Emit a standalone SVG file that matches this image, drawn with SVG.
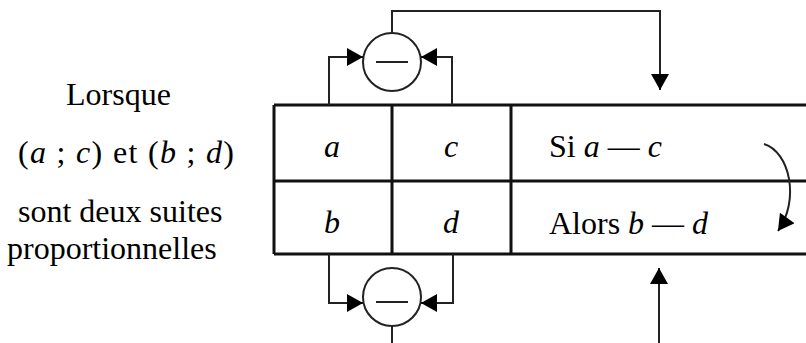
<svg xmlns="http://www.w3.org/2000/svg" width="806" height="343" viewBox="0 0 806 343">
<style>
text{font-family:'Liberation Serif','Times New Roman',serif;font-size:32px;fill:#000}
.i{font-style:italic}
.tbl{stroke:#111;stroke-width:3;fill:none}
.ln{stroke:#222;stroke-width:2;fill:none}
.op{stroke:#222;stroke-width:2;fill:#fff}
</style>
<defs>
<marker id="ah" markerUnits="userSpaceOnUse" markerWidth="18" markerHeight="18" viewBox="0 0 16 18" refX="16" refY="9" orient="auto">
<path d="M0,0 L16,9 L0,18 Z" fill="#000"/>
</marker>
</defs>
<rect width="806" height="343" fill="#fff"/>
<g id="caption" font-family="Liberation Serif">
<text x="66" y="105">Lorsque</text>
<text x="18" y="163" textLength="216" lengthAdjust="spacing">(<tspan class="i">a</tspan> ; <tspan class="i">c</tspan>) et (<tspan class="i">b</tspan> ; <tspan class="i">d</tspan>)</text>
<text x="18" y="222">sont deux suites</text>
<text x="7" y="259">proportionnelles</text>
</g>
<g id="table" font-family="Liberation Serif">
<path class="tbl" d="M274,105 H806 M274,181 H806 M274,254 H806 M274,105 V254 M392,105 V254 M511,105 V254"/>
<text class="i" x="332" y="157" text-anchor="middle">a</text>
<text class="i" x="451" y="157" text-anchor="middle">c</text>
<text class="i" x="332" y="233" text-anchor="middle">b</text>
<text class="i" x="451" y="233" text-anchor="middle">d</text>
<text x="549" y="157">Si <tspan class="i">a</tspan> — <tspan class="i">c</tspan></text>
<text x="549" y="234">Alors <tspan class="i">b</tspan> — <tspan class="i">d</tspan></text>
</g>
<g id="op-top">
<circle class="op" cx="392" cy="62" r="29"/>
<path class="ln" d="M376,62 H408"/>
</g>
<g id="op-bottom">
<circle class="op" cx="392" cy="297" r="29"/>
<path class="ln" d="M376,302 H408"/>
</g>
<g id="connectors">
<path class="ln" d="M329,105 V57 H363" marker-end="url(#ah)"/>
<path class="ln" d="M452,105 V57 H421" marker-end="url(#ah)"/>
<path class="ln" d="M392,33 V11 H660 V90" marker-end="url(#ah)"/>
<path class="ln" d="M329,254 V303 H363" marker-end="url(#ah)"/>
<path class="ln" d="M453,254 V303 H421" marker-end="url(#ah)"/>
<path class="ln" d="M392,326 V343"/>
<path class="ln" d="M659,343 V268" marker-end="url(#ah)"/>
<path class="ln" d="M764,144 C790,152 800,200 778,231" marker-end="url(#ah)"/>
</g>
</svg>
